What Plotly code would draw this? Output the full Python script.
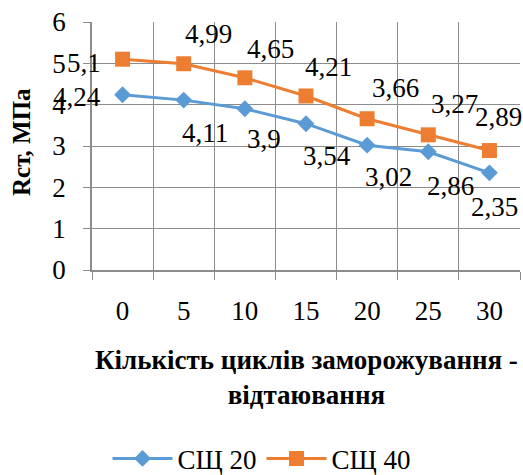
import plotly.graph_objects as go

cycles = [0, 5, 10, 15, 20, 25, 30]
sc20 = [4.24, 4.11, 3.9, 3.54, 3.02, 2.86, 2.35]
sc40 = [5.1, 4.99, 4.65, 4.21, 3.66, 3.27, 2.89]
series_names = ["СЩ 20", "СЩ 40"]

BLUE = "#5B9BD5"
ORANGE = "#ED7D31"
GRID = "#8c8c8c"
FONT = "Liberation Serif"

# pixel offsets of the value labels relative to their points
off20 = [(-46, -2), (21, -33), (19, -30), (21, -32), (21, -32), (22, -34), (5, -34)]
off40 = [(-39, -4), (25, 30), (26, 29), (22, 29), (28, 31), (26, 31), (9, 34)]


def fmt(v):
    return f"{v:g}".replace(".", ",")


fig = go.Figure()
fig.add_trace(go.Scatter(
    x=cycles, y=sc20, name=series_names[0], mode="lines+markers",
    line=dict(color=BLUE, width=3),
    marker=dict(symbol="diamond", size=13, color=BLUE),
))
fig.add_trace(go.Scatter(
    x=cycles, y=sc40, name=series_names[1], mode="lines+markers",
    line=dict(color=ORANGE, width=3),
    marker=dict(symbol="square", size=15, color=ORANGE),
))

for vals, offs in ((sc20, off20), (sc40, off40)):
    for x, v, (dx, dy) in zip(cycles, vals, offs):
        fig.add_annotation(
            x=x, y=v, xref="x", yref="y", text=fmt(v), showarrow=False,
            xshift=dx, yshift=dy, font=dict(family=FONT, size=27, color="#000"),
        )

# axis titles
fig.add_annotation(
    x=0.5, y=-0.435, xref="paper", yref="paper", showarrow=False,
    text="<b>Кількість циклів заморожування -<br>відтаювання</b>",
    font=dict(family=FONT, size=27, color="#000"), align="center",
    yanchor="middle",
)
fig.add_annotation(
    x=-0.166, y=0.516, xref="paper", yref="paper", showarrow=False,
    text="<b>Rст, МПа</b>", textangle=-90,
    font=dict(family=FONT, size=25, color="#000"),
    xanchor="center", yanchor="middle",
)

fig.update_layout(
    width=523, height=475,
    margin=dict(l=92, r=3, t=22, b=205),
    paper_bgcolor="white", plot_bgcolor="white",
    font=dict(family=FONT, size=27, color="#000"),
    showlegend=True,
    legend=dict(
        orientation="h", x=0.5, xref="container", xanchor="center",
        y=0.034, yref="container", yanchor="middle",
        font=dict(family=FONT, size=27, color="#000"),
        itemwidth=60, tracegroupgap=0,
    ),
    xaxis=dict(
        range=[-2.5, 32.5], tickvals=cycles, ticktext=[str(c) for c in cycles],
        showgrid=False, ticks="", ticklabelstandoff=16,
        showline=True, linecolor=GRID, linewidth=1.5, zeroline=False,
        minor=dict(
            tickvals=[c - 2.5 for c in cycles] + [32.5],
            showgrid=True, gridcolor=GRID, gridwidth=1.2,
            ticks="outside", ticklen=8, tickcolor=GRID,
        ),
        tickfont=dict(family=FONT, size=27),
    ),
    yaxis=dict(
        range=[0, 6], dtick=1, showgrid=True, gridcolor=GRID, gridwidth=1.2,
        ticks="outside", ticklen=7, tickcolor=GRID, ticklabelstandoff=12,
        showline=True, linecolor=GRID, linewidth=1.5, zeroline=False,
        tickfont=dict(family=FONT, size=27),
    ),
)

fig.write_html("out.html")
